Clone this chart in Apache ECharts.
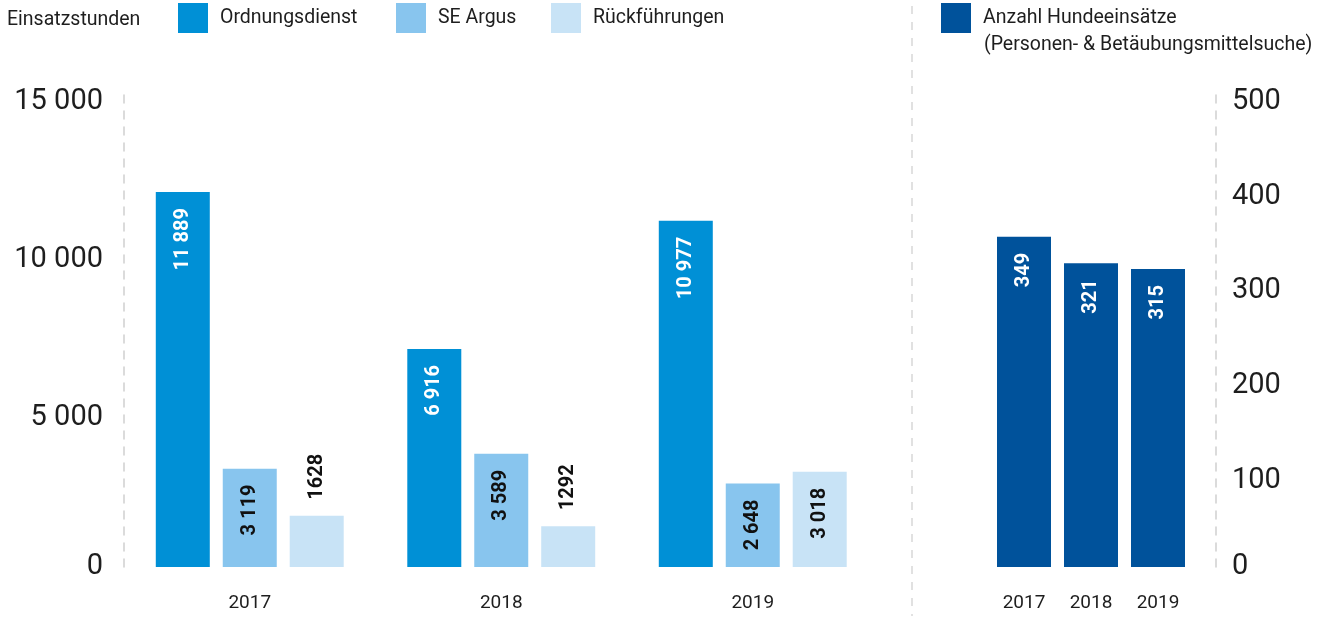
<!DOCTYPE html>
<html>
<head>
<meta charset="utf-8">
<script src="https://cdn.jsdelivr.net/npm/echarts@6/dist/echarts.min.js"></script>
<style>
html,body{margin:0;padding:0;background:#fff;}
#chart{width:1333px;height:619px;}
</style>
</head>
<body>
<div id="chart"></div>
<script>
// ---- data ----
const years = ['2017', '2018', '2019'];
const ordnungsdienst = [11889, 6916, 10977];
const seArgus = [3119, 3589, 2648];
const rueckfuehrungen = [1628, 1292, 3018];
const hundeeinsaetze = [349, 321, 315];
const leftTicks = [0, 5000, 10000, 15000];
const rightTicks = [0, 100, 200, 300, 400, 500];

const FONT = 'Roboto';
const C_ORD = '#0090d6';
const C_SE = '#88c5ee';
const C_RUE = '#c8e3f6';
const C_HUND = '#00529b';
const TXT = '#1e1e1e';

function fmt(v) {
  return String(v).replace(/\B(?=(\d{3})+(?!\d))/g, ' ');
}

const insideLabel = (color) => ({
  show: true,
  position: 'insideTop',
  rotate: 90,
  align: 'right',
  verticalAlign: 'middle',
  distance: 16,
  color: color,
  fontFamily: FONT,
  fontWeight: 'bold',
  fontSize: 20,
  formatter: p => fmt(p.value)
});
const outsideLabel = (color) => ({
  show: true,
  position: 'top',
  rotate: 90,
  align: 'left',
  verticalAlign: 'middle',
  distance: 16,
  color: color,
  fontFamily: FONT,
  fontWeight: 'bold',
  fontSize: 20,
  formatter: p => String(p.value)
});

const axisLabelRich = {
  z: { fontSize: 29, fontFamily: FONT, color: TXT },
  n: { fontSize: 29, fontFamily: FONT, color: TXT, padding: [16, 0, 0, 0] }
};
const yLabelFmt = v => (v === 0 ? '{z|0}' : '{n|' + fmt(v) + '}');

const chart = echarts.init(document.getElementById('chart'));
chart.setOption({
  animation: false,
  backgroundColor: '#fff',
  title: [
    { text: 'Einsatzstunden', left: 7, top: 10, padding: 0, textStyle: { fontFamily: FONT, fontSize: 19.5, fontWeight: 'normal', color: TXT } },
    { text: '(Personen- & Betäubungsmittelsuche)', left: 984, top: 35, padding: 0, textStyle: { fontFamily: FONT, fontSize: 19.5, fontWeight: 'normal', color: TXT } }
  ],
  legend: [
    { data: ['Ordnungsdienst'], left: 178, top: 3 },
    { data: ['SE Argus'], left: 396, top: 3 },
    { data: ['Rückführungen'], left: 551, top: 3 },
    { data: ['Anzahl Hundeeinsätze'], left: 941, top: 3 }
  ].map(l => Object.assign(l, {
    itemWidth: 30, itemHeight: 30, icon: 'rect', padding: 0,
    textStyle: { fontFamily: FONT, fontSize: 19.5, color: TXT, padding: [6, 0, 0, 7] }
  })),
  graphic: [{
    type: 'line',
    shape: { x1: 912, y1: 6, x2: 912, y2: 616 },
    style: { stroke: '#d8d8d8', lineWidth: 1.5, lineDash: [8, 8] },
    silent: true
  }],
  grid: [
    { left: 124, width: 754.5, top: 94, height: 473 },
    { left: 990.5, width: 201, top: 94, height: 473 }
  ],
  xAxis: [0, 1].map(i => ({
    type: 'category', gridIndex: i, data: years,
    axisLine: { show: false }, axisTick: { show: false },
    axisLabel: { fontFamily: FONT, fontSize: 19, color: TXT, margin: 27 }
  })),
  yAxis: [
    {
      type: 'value', gridIndex: 0, min: 0, max: 15000, interval: 5000,
      axisLine: { show: true, lineStyle: { color: '#cfcfcf', type: [8, 8], width: 1.5 } },
      axisTick: { show: false }, splitLine: { show: false },
      axisLabel: { margin: 21, formatter: yLabelFmt, rich: axisLabelRich }
    },
    {
      type: 'value', gridIndex: 1, position: 'right', offset: 24.5,
      min: 0, max: 500, interval: 100,
      axisLine: { show: true, lineStyle: { color: '#cfcfcf', type: [8, 8], width: 1.5 } },
      axisTick: { show: false }, splitLine: { show: false },
      axisLabel: { margin: 16, formatter: yLabelFmt, rich: axisLabelRich }
    }
  ],
  series: [
    {
      name: 'Ordnungsdienst', type: 'bar', xAxisIndex: 0, yAxisIndex: 0,
      barWidth: 54, barGap: '24%', itemStyle: { color: C_ORD },
      data: ordnungsdienst, label: insideLabel('#ffffff')
    },
    {
      name: 'SE Argus', type: 'bar', xAxisIndex: 0, yAxisIndex: 0,
      barWidth: 54, barGap: '24%', itemStyle: { color: C_SE },
      data: seArgus, label: insideLabel('#111')
    },
    {
      name: 'Rückführungen', type: 'bar', xAxisIndex: 0, yAxisIndex: 0,
      barWidth: 54, barGap: '24%', itemStyle: { color: C_RUE },
      data: rueckfuehrungen.map(v => ({
        value: v,
        label: v < 2000 ? outsideLabel('#111') : insideLabel('#111')
      }))
    },
    {
      name: 'Anzahl Hundeeinsätze', type: 'bar', xAxisIndex: 1, yAxisIndex: 1,
      barWidth: 54, itemStyle: { color: C_HUND },
      data: hundeeinsaetze, label: insideLabel('#ffffff')
    }
  ]
});
</script>
</body>
</html>
